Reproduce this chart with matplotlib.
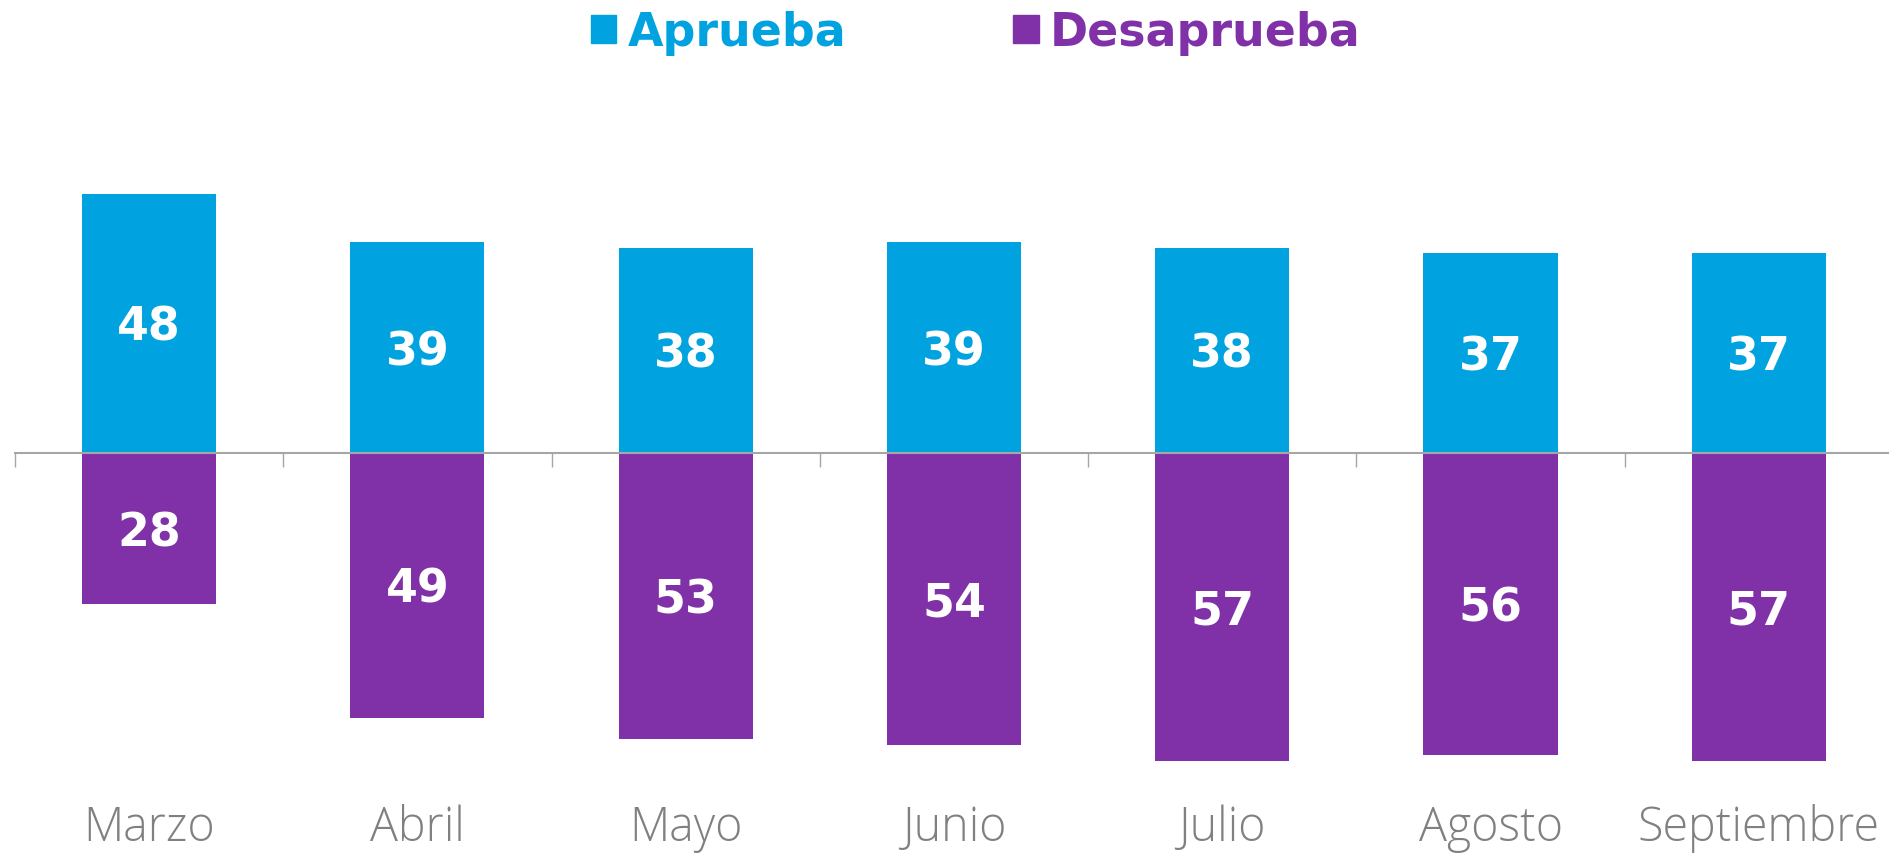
import matplotlib
matplotlib.use("Agg")
import matplotlib.pyplot as plt
import matplotlib.transforms as mtransforms
from matplotlib.patches import Patch
import numpy as np

months = ["Marzo", "Abril", "Mayo", "Junio", "Julio", "Agosto", "Septiembre"]
aprueba = [48, 39, 38, 39, 38, 37, 37]
desaprueba = [28, 49, 53, 54, 57, 56, 57]
series_names = ["Aprueba", "Desaprueba"]

BLUE = "#00A2DF"
PURPLE = "#8031A7"
GRAY_LINE = "#A6A6A6"
GRAY_TEXT = "#808080"

fig = plt.figure(figsize=(18.9, 8.55), dpi=100)
ax = fig.add_axes([15 / 1890, 1 - 777 / 855, 1878 / 1890, 658.8 / 855])

x = np.arange(len(months))
ax.bar(x, aprueba, width=0.5, color=BLUE, zorder=1)
ax.bar(x, [-v for v in desaprueba], width=0.5, color=PURPLE, zorder=1)

ax.set_xlim(-0.5, len(months) - 0.5)
ax.set_ylim(-60, 62)

for xi, a, d in zip(x, aprueba, desaprueba):
    ax.text(xi, a / 2, str(a), ha="center", va="center_baseline", color="white",
            fontsize=33, fontweight="bold", family="DejaVu Sans")
    ax.text(xi, -d / 2, str(d), ha="center", va="center_baseline", color="white",
            fontsize=33, fontweight="bold", family="DejaVu Sans")

for s in ["top", "right", "left"]:
    ax.spines[s].set_visible(False)
ax.spines["bottom"].set_position(("data", 0))
ax.spines["bottom"].set_color(GRAY_LINE)
ax.spines["bottom"].set_linewidth(1.5)
ax.set_yticks([])
ax.set_xticks(x)
ax.set_xticklabels([])
ax.tick_params(axis="x", which="major", length=0)
ax.set_xticks(x - 0.5, minor=True)
ax.tick_params(axis="x", which="minor", length=10, width=1, color=GRAY_LINE, direction="out")

trans = mtransforms.blended_transform_factory(ax.transData, fig.transFigure)
for xi, m in zip(x, months):
    ax.text(xi, 1 - 841 / 855, m, transform=trans, ha="center", va="baseline",
            fontsize=33.5, color=GRAY_TEXT, family="Open Sans", fontweight="light")

handles = [Patch(color=BLUE), Patch(color=PURPLE)]
fig.legend(handles, series_names, loc="center", bbox_to_anchor=(976 / 1890, 1 - 33 / 855),
           ncol=2, frameon=False, handlelength=0.55, handleheight=0.55,
           handletextpad=0.25, columnspacing=3.64,
           prop={"weight": "bold", "size": 33, "family": "DejaVu Sans"},
           labelcolor=[BLUE, PURPLE], borderpad=0, borderaxespad=0)

fig.savefig("out.png", dpi=100)
